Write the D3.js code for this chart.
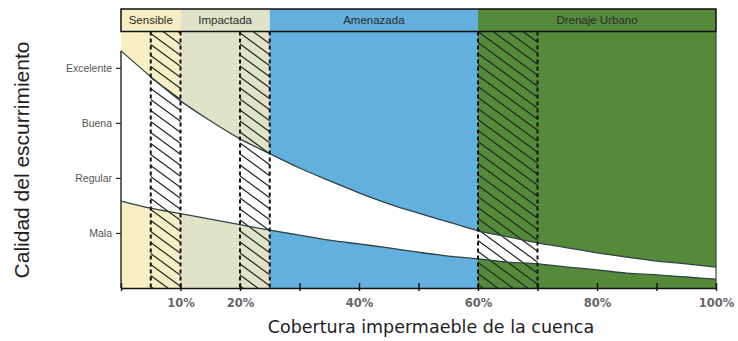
<!DOCTYPE html>
<html>
<head>
<meta charset="utf-8">
<script src="https://cdn.jsdelivr.net/npm/d3@7"></script>
<style>
body { margin: 0; background: #fff; }
svg { display: block; }
</style>
</head>
<body>
<svg width="738" height="341"></svg>
<script>
// zones of the watershed (percent impervious cover)
const zoneNames = ["Sensible", "Impactada", "Amenazada", "Drenaje Urbano"];
const zoneStart = [0, 10, 25, 60];
const zoneEnd = [10, 25, 60, 100];

// transition bands drawn with hatching
const bandStart = [5, 20, 60];
const bandEnd = [10, 25, 70];

// quality levels on the y axis
const qualityLabels = ["Mala", "Regular", "Buena", "Excelente"];
const qualityValues = [1, 2, 3, 4];

const xTickValues = [0, 10, 20, 30, 40, 50, 60, 70, 80, 90, 100];
const xTickLabels = ["", "10%", "20%", "", "40%", "", "60%", "", "80%", "", "100%"];

// envelope of runoff quality
const coverage = [0, 5, 10, 15, 20, 25, 30, 35, 40, 45, 50, 55, 60, 65, 70, 75, 80, 85, 90, 95, 100];
const upperQuality = [4.31, 3.84, 3.40, 3.04, 2.71, 2.44, 2.18, 1.95, 1.73, 1.53, 1.36, 1.20, 1.04, 0.93, 0.82, 0.73, 0.64, 0.56, 0.49, 0.44, 0.38];
const lowerQuality = [1.58, 1.45, 1.35, 1.25, 1.15, 1.05, 0.96, 0.87, 0.80, 0.73, 0.65, 0.58, 0.53, 0.47, 0.44, 0.38, 0.33, 0.27, 0.24, 0.20, 0.16];

const zoneColors = ["#f6efc3", "#e0e3c8", "#63afde", "#558a3b"];

const svg = d3.select("svg");

const x = d3.scaleLinear().domain([0, 100]).range([121, 716]);
const y = d3.scaleLinear().domain([0, 4.67]).range([288, 31]);
const headTop = 9, headBottom = 31.5;

// hatch pattern
const defs = svg.append("defs");
const pat = defs.append("pattern")
    .attr("id", "hatch")
    .attr("patternUnits", "userSpaceOnUse")
    .attr("width", 15)
    .attr("height", 11);
pat.append("path")
    .attr("d", "M-15,-11 L30,22 M-15,0 L15,22 M0,-11 L30,11")
    .attr("stroke", "#222")
    .attr("stroke-width", 1.2)
    .attr("fill", "none");

// zone backgrounds
svg.append("g").selectAll("rect")
    .data(zoneNames)
    .enter()
    .append("rect")
    .attr("x", (d, i) => x(zoneStart[i]))
    .attr("y", headTop)
    .attr("width", (d, i) => x(zoneEnd[i]) - x(zoneStart[i]))
    .attr("height", y(0) - headTop)
    .attr("fill", (d, i) => zoneColors[i]);

// white band between the curves
const pts = coverage.map((c, i) => ({ c: c, up: upperQuality[i], lo: lowerQuality[i] }));

svg.append("path")
    .datum(pts)
    .attr("fill", "#fff")
    .attr("d", d3.area()
        .curve(d3.curveMonotoneX)
        .x(d => x(d.c))
        .y0(d => y(d.lo))
        .y1(d => y(d.up)));

// hatched bands
svg.append("g").selectAll("rect")
    .data(bandStart)
    .enter()
    .append("rect")
    .attr("x", (d) => x(d))
    .attr("y", headBottom)
    .attr("width", (d, i) => x(bandEnd[i]) - x(d))
    .attr("height", y(0) - headBottom)
    .attr("fill", "url(#hatch)");

// curves
["up", "lo"].forEach(k => {
    svg.append("path")
        .datum(pts)
        .attr("fill", "none")
        .attr("stroke", "#2e4444")
        .attr("stroke-width", 1.3)
        .attr("d", d3.line()
            .curve(d3.curveMonotoneX)
            .x(d => x(d.c))
            .y(d => y(d[k])));
});

// dashed band borders
const edges = bandStart.concat(bandEnd);
svg.append("g").selectAll("line")
    .data(edges)
    .enter()
    .append("line")
    .attr("x1", d => x(d))
    .attr("x2", d => x(d))
    .attr("y1", headBottom)
    .attr("y2", y(0))
    .attr("stroke", "#111")
    .attr("stroke-width", 2)
    .attr("stroke-dasharray", "4,3");

// header box
svg.append("rect")
    .attr("x", x(0))
    .attr("y", headTop)
    .attr("width", x(100) - x(0))
    .attr("height", headBottom - headTop)
    .attr("fill", "none")
    .attr("stroke", "#111")
    .attr("stroke-width", 1.5);

svg.append("line")
    .attr("x1", x(100)).attr("x2", x(100))
    .attr("y1", headBottom).attr("y2", y(0))
    .attr("stroke", "#2e4a2a")
    .attr("stroke-width", 1.2);

svg.append("g").selectAll("text")
    .data(zoneNames)
    .enter()
    .append("text")
    .attr("x", (d, i) => (x(zoneStart[i]) + x(zoneEnd[i])) / 2)
    .attr("y", 24)
    .attr("text-anchor", "middle")
    .style("font-family", "Liberation Sans, Arial, sans-serif")
    .style("font-size", "11.5px")
    .style("fill", "#2a2a2a")
    .text(d => d);

// y axis
const yAxis = svg.append("g")
    .attr("transform", "translate(" + x(0) + ",0)")
    .call(d3.axisLeft(y)
        .tickValues(qualityValues)
        .tickFormat((d, i) => qualityLabels[i])
        .tickSize(5)
        .tickPadding(4));
yAxis.select(".domain").remove();
yAxis.selectAll("line").attr("stroke", "#222").attr("stroke-width", 1.2);
yAxis.selectAll("text")
    .style("font-family", "Liberation Sans, Arial, sans-serif")
    .style("font-size", "10.5px")
    .style("fill", "#555");

svg.append("line")
    .attr("x1", x(0)).attr("x2", x(0))
    .attr("y1", y(upperQuality[0]))
    .attr("y2", y(0))
    .attr("stroke", "#333")
    .attr("stroke-width", 1.5);

// x axis
const xAxis = svg.append("g")
    .attr("transform", "translate(0," + y(0) + ")")
    .call(d3.axisBottom(x)
        .tickValues(xTickValues)
        .tickFormat((d, i) => xTickLabels[i])
        .tickSizeInner(3)
        .tickSizeOuter(0)
        .tickPadding(8));
xAxis.select(".domain").attr("stroke", "#111").attr("stroke-width", 1.6);
xAxis.selectAll(".tick line")
    .attr("y1", -5)
    .attr("stroke", "#111")
    .attr("stroke-width", 1.4);
xAxis.selectAll("text")
    .style("font-family", "DejaVu Sans, Verdana, sans-serif")
    .style("font-size", "11.5px")
    .style("font-weight", "bold")
    .style("fill", "#666");

// axis titles
svg.append("text")
    .attr("x", 431)
    .attr("y", 333)
    .attr("text-anchor", "middle")
    .style("font-family", "DejaVu Sans, Verdana, sans-serif")
    .style("font-size", "17.5px")
    .style("fill", "#222")
    .text("Cobertura impermaeble de la cuenca");

svg.append("text")
    .attr("transform", "translate(29,160) rotate(-90)")
    .attr("text-anchor", "middle")
    .style("font-family", "Liberation Sans, Arial, sans-serif")
    .style("font-size", "21px")
    .style("fill", "#222")
    .text("Calidad del escurrimiento");
</script>
</body>
</html>
